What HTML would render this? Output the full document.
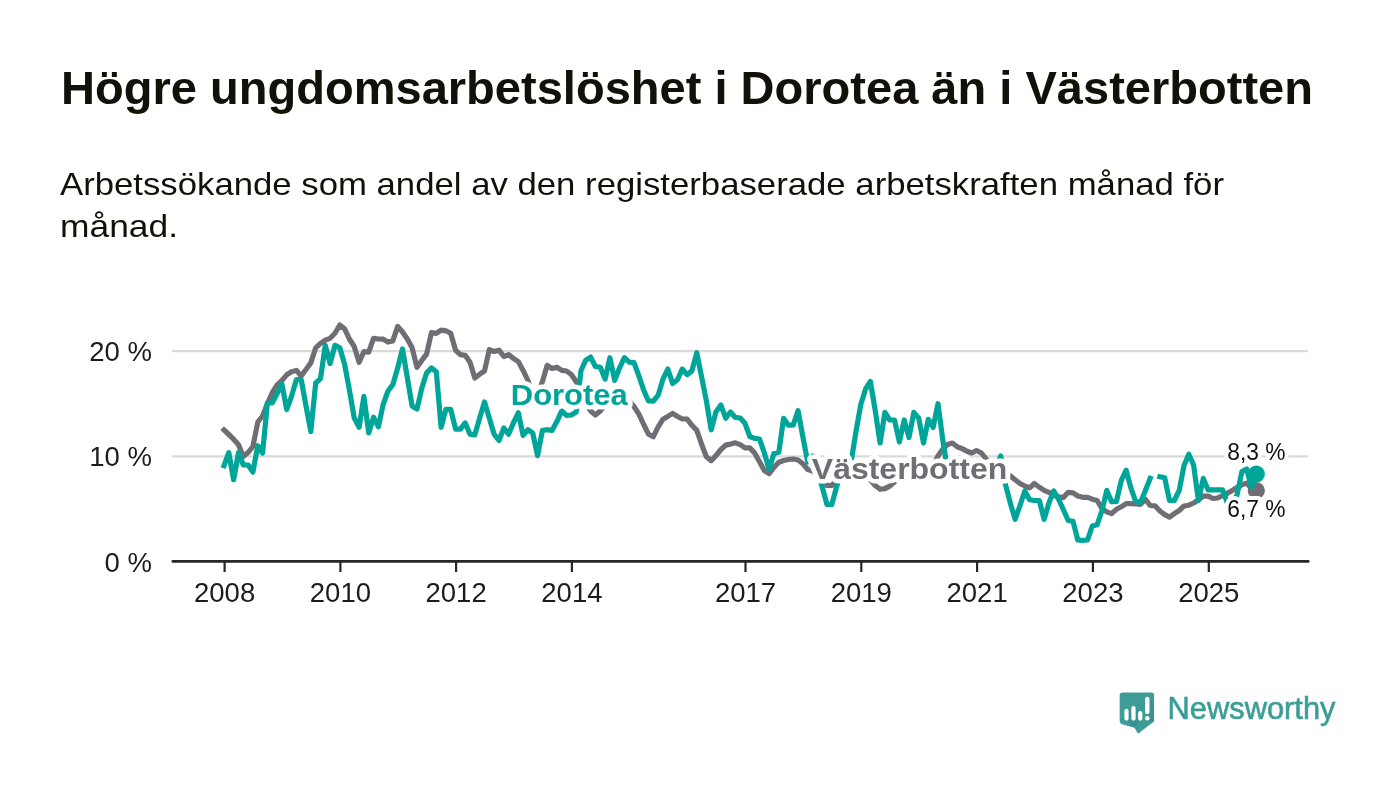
<!DOCTYPE html>
<html><head><meta charset="utf-8">
<style>
html,body{margin:0;padding:0;background:#fff;}
body{width:1400px;height:794px;overflow:hidden;position:relative;font-family:"Liberation Sans",sans-serif;}
svg{position:absolute;left:0;top:0;will-change:transform;}
</style></head>
<body>
<svg width="1400" height="794" viewBox="0 0 1400 794" font-family="Liberation Sans, sans-serif">
<text x="61" y="104.3" font-size="46" font-weight="bold" fill="#121109" textLength="1252" lengthAdjust="spacingAndGlyphs">Högre ungdomsarbetslöshet i Dorotea än i Västerbotten</text>
<text x="60" y="194.7" font-size="31.3" fill="#121109" textLength="1164" lengthAdjust="spacingAndGlyphs">Arbetssökande som andel av den registerbaserade arbetskraften månad för</text>
<text x="60" y="237" font-size="31.3" fill="#121109" textLength="118" lengthAdjust="spacingAndGlyphs">månad.</text>
<!-- gridlines -->
<g stroke="#d9d9d9" stroke-width="2.2">
<line x1="172" y1="351.1" x2="1308" y2="351.1"/>
<line x1="172" y1="456.4" x2="1308" y2="456.4"/>
</g>
<g font-size="27.5" fill="#1c1c1c" text-anchor="end">
<text x="152" y="361.2">20 %</text>
<text x="152" y="466.4">10 %</text>
<text x="152" y="571.7">0 %</text>
</g>
<path d="M224.0,430.0 L228.8,434.5 L233.6,439.2 L238.5,444.8 L243.3,456.5 L248.1,452.5 L252.9,446.5 L257.8,422.0 L262.6,416.0 L267.4,403.5 L272.2,392.7 L277.1,385.0 L281.9,380.5 L286.7,374.8 L291.5,371.7 L296.4,370.4 L301.2,376.0 L306.0,369.5 L310.8,362.9 L315.7,347.8 L320.5,343.4 L325.3,340.2 L330.1,338.3 L335.0,333.3 L339.8,325.1 L344.6,328.9 L349.4,339.0 L354.2,346.5 L359.1,362.3 L363.9,351.6 L368.7,352.2 L373.5,338.3 L378.4,339.0 L383.2,339.2 L388.0,342.1 L392.8,340.9 L397.7,326.4 L402.5,332.0 L407.3,339.0 L412.1,347.8 L417.0,367.3 L421.8,360.4 L426.6,354.1 L431.4,332.7 L436.3,333.3 L441.1,330.2 L445.9,330.8 L450.7,333.3 L455.6,350.3 L460.4,354.7 L465.2,355.3 L470.0,362.3 L474.8,378.0 L479.7,374.2 L484.5,371.0 L489.3,349.6 L494.1,351.5 L499.0,350.2 L503.8,356.5 L508.6,354.6 L513.4,358.4 L518.3,361.6 L523.1,370.4 L527.9,380.5 L532.7,395.0 L537.6,395.0 L542.4,381.7 L547.2,365.3 L552.0,368.5 L556.9,367.2 L561.7,370.4 L566.5,371.0 L571.3,374.5 L576.2,381.7 L581.0,392.0 L585.8,403.0 L590.6,411.0 L595.4,415.0 L600.3,411.0 L605.1,405.0 L609.9,400.0 L614.7,398.0 L619.6,398.0 L624.4,399.0 L629.2,401.0 L634.0,406.5 L638.9,414.2 L643.7,424.5 L648.5,434.2 L653.3,436.7 L658.2,426.8 L663.0,419.2 L667.8,416.4 L672.6,413.4 L677.5,416.5 L682.3,419.0 L687.1,419.0 L691.9,425.3 L696.8,430.4 L701.6,444.2 L706.4,456.8 L711.2,460.6 L716.0,455.6 L720.9,449.5 L725.7,445.1 L730.5,444.1 L735.3,442.8 L740.2,444.7 L745.0,447.9 L749.8,447.9 L754.6,452.9 L759.5,461.7 L764.3,470.5 L769.1,473.7 L773.9,467.4 L778.8,462.3 L783.6,460.5 L788.4,459.5 L793.2,459.0 L798.1,460.0 L802.9,463.8 L807.7,469.5 L812.5,471.0 L817.4,474.0 L822.2,478.0 L827.0,485.5 L831.8,485.5 L836.6,480.0 L841.5,477.0 L846.3,476.0 L851.1,476.0 L855.9,476.0 L860.8,476.0 L865.6,477.0 L870.4,480.0 L875.2,485.5 L880.1,489.3 L884.9,488.6 L889.7,486.1 L894.5,482.0 L899.4,478.0 L904.2,476.0 L909.0,475.0 L913.8,474.0 L918.7,473.0 L923.5,472.0 L928.3,470.0 L933.1,466.0 L938.0,456.0 L942.8,449.0 L947.6,444.5 L952.4,443.0 L957.2,446.8 L962.1,448.6 L966.9,451.2 L971.7,453.0 L976.5,450.5 L981.4,453.0 L986.2,459.0 L991.0,464.0 L995.8,468.0 L1000.7,471.0 L1005.5,474.0 L1010.3,475.9 L1015.1,479.7 L1020.0,483.5 L1024.8,486.0 L1029.6,487.9 L1034.4,483.5 L1039.3,487.2 L1044.1,490.4 L1048.9,492.3 L1053.7,495.4 L1058.6,496.7 L1063.4,497.6 L1068.2,492.3 L1073.0,492.9 L1077.8,496.0 L1082.7,497.3 L1087.5,497.3 L1092.3,499.2 L1097.1,500.5 L1102.0,508.6 L1106.8,511.8 L1111.6,513.7 L1116.4,509.3 L1121.3,506.8 L1126.1,503.6 L1130.9,503.6 L1135.7,504.0 L1140.6,504.3 L1145.4,499.3 L1150.2,505.5 L1155.0,505.8 L1159.9,511.0 L1164.7,514.6 L1169.5,517.1 L1174.3,513.6 L1179.2,510.5 L1184.0,506.0 L1188.8,505.2 L1193.6,503.0 L1198.4,500.1 L1203.3,496.1 L1208.1,496.1 L1212.9,498.5 L1217.7,498.0 L1222.6,495.5 L1227.4,493.3 L1232.2,490.4 L1237.0,487.6 L1241.9,484.8 L1246.7,483.1 L1251.5,488.7 L1256.3,490.5" fill="none" stroke="#706e75" stroke-width="5.2" stroke-linejoin="round" stroke-linecap="square"/>
<circle cx="1256.3" cy="490.5" r="8.6" fill="#706e75"/>
<path d="M224.0,465.6 L228.8,452.7 L233.6,479.7 L238.5,452.7 L243.3,465.0 L248.1,465.0 L252.9,472.0 L257.8,445.7 L262.6,453.0 L267.4,403.0 L272.2,403.0 L277.1,393.5 L281.9,384.0 L286.7,409.6 L291.5,396.4 L296.4,379.5 L301.2,379.5 L306.0,406.0 L310.8,431.6 L315.7,383.0 L320.5,378.6 L325.3,345.3 L330.1,363.5 L335.0,345.3 L339.8,347.8 L344.6,364.2 L349.4,390.0 L354.2,417.9 L359.1,427.3 L363.9,396.4 L368.7,433.0 L373.5,417.2 L378.4,426.7 L383.2,404.3 L388.0,391.0 L392.8,384.7 L397.7,368.0 L402.5,349.0 L407.3,377.5 L412.1,406.0 L417.0,409.0 L421.8,388.1 L426.6,373.0 L431.4,367.9 L436.3,371.7 L441.1,427.3 L445.9,409.3 L450.7,409.3 L455.6,429.2 L460.4,429.2 L465.2,422.9 L470.0,434.2 L474.8,434.9 L479.7,417.9 L484.5,402.0 L489.3,417.9 L494.1,434.2 L499.0,440.5 L503.8,427.9 L508.6,434.2 L513.4,422.9 L518.3,412.8 L523.1,435.4 L527.9,429.7 L532.7,432.9 L537.6,455.6 L542.4,430.4 L547.2,429.7 L552.0,430.4 L556.9,421.6 L561.7,410.9 L566.5,415.3 L571.3,415.0 L576.2,412.1 L581.0,370.5 L585.8,360.2 L590.6,357.1 L595.4,366.5 L600.3,367.2 L605.1,379.1 L609.9,357.7 L614.7,380.4 L619.6,367.8 L624.4,357.7 L629.2,362.1 L634.0,362.7 L638.9,376.0 L643.7,390.2 L648.5,401.0 L653.3,401.2 L658.2,395.0 L663.0,379.1 L667.8,369.0 L672.6,383.5 L677.5,379.7 L682.3,369.0 L687.1,374.7 L691.9,370.9 L696.8,352.7 L701.6,377.0 L706.4,401.0 L711.2,429.8 L716.0,411.7 L720.9,405.1 L725.7,418.2 L730.5,412.0 L735.3,417.4 L740.2,418.0 L745.0,423.3 L749.8,436.5 L754.6,438.4 L759.5,439.0 L764.3,452.9 L769.1,469.3 L773.9,453.5 L778.8,452.3 L783.6,418.3 L788.4,425.2 L793.2,425.2 L798.1,410.7 L802.9,437.0 L807.7,462.0 L812.5,456.0 L817.4,472.0 L822.2,487.0 L827.0,504.5 L831.8,504.5 L836.6,487.0 L841.5,470.0 L846.3,458.0 L851.1,462.0 L855.9,432.0 L860.8,404.5 L865.6,389.0 L870.4,381.5 L875.2,410.5 L880.1,443.0 L884.9,412.4 L889.7,420.0 L894.5,420.0 L899.4,442.0 L904.2,420.0 L909.0,437.6 L913.8,412.4 L918.7,418.1 L923.5,443.0 L928.3,419.3 L933.1,427.4 L938.0,403.7 L942.8,440.0 L947.6,470.0 L952.4,470.0 L957.2,470.0 L962.1,470.0 L966.9,470.0 L971.7,470.0 L976.5,470.0 L981.4,470.0 L986.2,470.0 L991.0,470.0 L995.8,470.0 L1000.7,456.0 L1005.5,484.7 L1010.3,503.0 L1015.1,519.3 L1020.0,505.5 L1024.8,491.0 L1029.6,499.8 L1034.4,500.5 L1039.3,500.5 L1044.1,519.3 L1048.9,503.0 L1053.7,491.0 L1058.6,499.2 L1063.4,509.8 L1068.2,520.5 L1073.0,521.3 L1077.8,540.0 L1082.7,540.3 L1087.5,540.0 L1092.3,526.0 L1097.1,524.8 L1102.0,510.5 L1106.8,490.4 L1111.6,501.7 L1116.4,501.7 L1121.3,480.3 L1126.1,470.2 L1130.9,487.9 L1135.7,501.7 L1140.6,502.3 L1145.4,490.5 L1150.2,478.3 M1159.9,476.8 L1164.7,477.8 L1169.5,500.5 L1174.3,500.5 L1179.2,490.4 L1184.0,465.6 L1188.8,454.2 L1193.6,465.0 L1198.4,500.5 L1203.3,478.5 L1208.1,489.9 L1212.9,489.9 L1217.7,489.9 L1222.6,489.9 L1227.4,503.0 L1232.2,504.0 L1237.0,495.0 L1241.9,471.5 L1246.7,469.0 L1251.5,487.6 L1256.3,474.0" fill="none" stroke="#00a59a" stroke-width="5.2" stroke-linejoin="round" stroke-linecap="square"/>
<circle cx="1256.3" cy="474" r="8.6" fill="#00a59a"/>
<line x1="172.9" y1="561.3" x2="1308.2" y2="561.3" stroke="#262626" stroke-width="2.8" stroke-linecap="round"/>
<g stroke="#262626" stroke-width="2.2"><line x1="224.6" y1="561" x2="224.6" y2="572"/><line x1="340.4" y1="561" x2="340.4" y2="572"/><line x1="456.1" y1="561" x2="456.1" y2="572"/><line x1="571.9" y1="561" x2="571.9" y2="572"/><line x1="745.5" y1="561" x2="745.5" y2="572"/><line x1="861.3" y1="561" x2="861.3" y2="572"/><line x1="977.1" y1="561" x2="977.1" y2="572"/><line x1="1092.9" y1="561" x2="1092.9" y2="572"/><line x1="1208.8" y1="561" x2="1208.8" y2="572"/></g>
<g font-size="27.5" fill="#1c1c1c" text-anchor="middle"><text x="224.6" y="602.3">2008</text><text x="340.4" y="602.3">2010</text><text x="456.1" y="602.3">2012</text><text x="571.9" y="602.3">2014</text><text x="745.5" y="602.3">2017</text><text x="861.3" y="602.3">2019</text><text x="977.1" y="602.3">2021</text><text x="1092.9" y="602.3">2023</text><text x="1208.8" y="602.3">2025</text></g>
<g stroke="#fff" stroke-width="9" stroke-linejoin="round" paint-order="stroke" font-weight="bold" font-size="29.5">
<text x="510.8" y="404.6" fill="#00a59a" textLength="117" lengthAdjust="spacingAndGlyphs">Dorotea</text>
<text x="811.8" y="478.5" fill="#706e75" textLength="195.5" lengthAdjust="spacingAndGlyphs">Västerbotten</text>
</g>
<g stroke="#fff" stroke-width="8" stroke-linejoin="round" paint-order="stroke" font-size="23.5" fill="#111">
<text x="1227.3" y="459.6" textLength="58.2" lengthAdjust="spacingAndGlyphs">8,3 %</text>
<text x="1227.3" y="516.8" textLength="58.2" lengthAdjust="spacingAndGlyphs">6,7 %</text>
</g>
<!-- logo -->
<g>
<path d="M1122.2,692.4 H1151.5 Q1154,692.4 1154,694.9 V721.4 L1138,733.7 L1134.5,727.7 L1121.9,724.2 Q1119.7,723.3 1119.7,721 V694.9 Q1119.7,692.4 1122.2,692.4 Z" fill="#3e9c96"/>
<g fill="#3a8791" opacity="0.55">
<path d="M1126.5,709 L1128.5,710 L1138,722 L1134.5,727.7 L1124.4,719 Z"/>
<path d="M1133.5,706 L1135.5,707 L1140,712 L1140,720.7 L1133,720.7 Z"/>
<path d="M1147.3,697 L1149.5,698 L1154,704 L1154,721.4 L1149.5,721.4 Z"/>
</g>
<g fill="#fff">
<rect x="1124.4" y="708.8" width="4.2" height="11.9" rx="2.1"/>
<rect x="1131.4" y="706" width="4.2" height="14.7" rx="2.1"/>
<rect x="1138.1" y="711" width="4.3" height="9.7" rx="2.1"/>
<rect x="1145.1" y="696.8" width="4.4" height="17.3" rx="2.2"/>
<circle cx="1147.3" cy="718.3" r="2.3"/>
</g>
<text x="1167.5" y="718.8" font-size="32" fill="#3a9e96" stroke="#3a9e96" stroke-width="0.6" textLength="168" lengthAdjust="spacingAndGlyphs">Newsworthy</text>
</g>
</svg>
</body></html>
